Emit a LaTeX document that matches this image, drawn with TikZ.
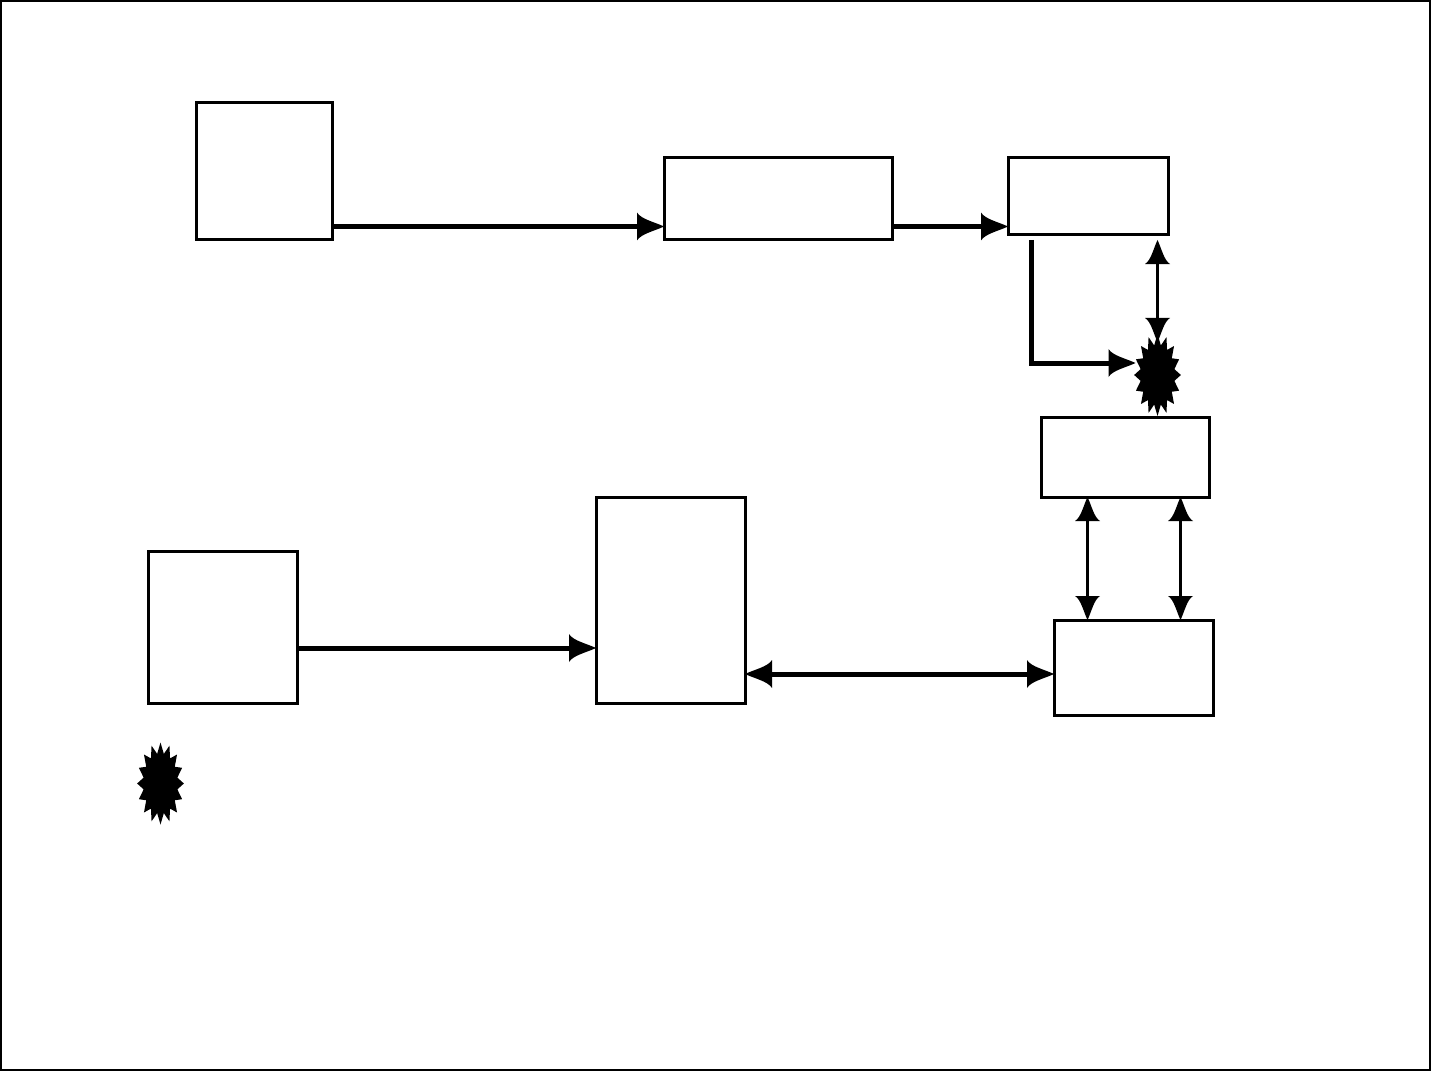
\documentclass[tikz,border=0pt]{standalone}
\usepackage{tikz}
\usetikzlibrary{arrows.meta,shapes.geometric}

\pgfdeclarearrow{
  name=Flare,
  setup code={
    \pgfarrowssettipend{0pt}
    \pgfarrowssetlineend{-.8\pgfarrowlength}
    \pgfarrowssetvisualbackend{-\pgfarrowlength}
    \pgfarrowssetbackend{-\pgfarrowlength}
    \pgfarrowssavethe\pgfarrowlength
    \pgfarrowssavethe\pgfarrowwidth
  },
  drawing code={
    \pgfpathmoveto{\pgfqpoint{0pt}{0pt}}
    \pgfpathcurveto{\pgfqpoint{-.35\pgfarrowlength}{.16\pgfarrowwidth}}{\pgfqpoint{-.85\pgfarrowlength}{.26\pgfarrowwidth}}{\pgfqpoint{-\pgfarrowlength}{.5\pgfarrowwidth}}
    \pgfpathlineto{\pgfqpoint{-\pgfarrowlength}{-.5\pgfarrowwidth}}
    \pgfpathcurveto{\pgfqpoint{-.85\pgfarrowlength}{-.26\pgfarrowwidth}}{\pgfqpoint{-.35\pgfarrowlength}{-.16\pgfarrowwidth}}{\pgfqpoint{0pt}{0pt}}
    \pgfpathclose
    \pgfusepathqfill
  },
  parameters={\the\pgfarrowlength,\the\pgfarrowwidth},
}

\begin{document}
\begin{tikzpicture}[
    x=1pt, y=-1pt,
    box/.style={draw, line width=3pt, inner sep=0pt, outer sep=0pt},
    burst/.style={star, star points=16, star point ratio=1.36, fill=black, draw=none,
        inner sep=0pt, outer sep=0pt, minimum size=82pt, xscale=0.57},
    wide/.style={line width=5pt, -{Flare[length=27pt,width=28pt]}},
    widetwo/.style={line width=5pt, {Flare[length=27pt,width=28pt]}-{Flare[length=27pt,width=28pt]}},
    thin two/.style={line width=3pt, {Flare[length=24pt,width=25pt]}-{Flare[length=24pt,width=25pt]}}
]
\useasboundingbox (0,0) rectangle (1431,1075);
\draw[line width=2pt] (1,1) rectangle (1430,1070);

\node[box, minimum width=136pt, minimum height=137pt] (topleft) at (264,171.5) {};
\node[box, minimum width=228pt, minimum height=82pt] (topmid) at (778,199) {};
\node[box, minimum width=160pt, minimum height=77pt] (topright) at (1088,196.5) {};
\node[box, minimum width=168.5pt, minimum height=80pt] (midright) at (1125.3,457) {};
\node[box, minimum width=159pt, minimum height=95pt] (lowright) at (1133.5,667.5) {};
\node[box, minimum width=149pt, minimum height=206pt] (lowmid) at (670.5,600) {};
\node[box, minimum width=149.5pt, minimum height=152pt] (lowleft) at (222.8,627) {};
\node[burst] (burstright) at (1157.5,375) {};
\node[burst] (burstleft) at (160.5,783.5) {};

\draw[wide] (topleft.east |- 0,226.5) -- (topmid.west |- 0,226.5);
\draw[wide] (topmid.east |- 0,226.5) -- (topright.west |- 0,226.5);
\draw[wide] ([xshift=-57pt,yshift=-5pt]topright.south) |- ([xshift=-22pt,yshift=12pt]burstright.center);
\draw[thin two] (burstright.north |- 0,240) -- ([yshift=-8pt]burstright.north);
\draw[thin two] (midright.south -| 1087.5,0) -- (lowright.north -| 1087.5,0);
\draw[thin two] (midright.south -| 1180.5,0) -- (lowright.north -| 1180.5,0);
\draw[wide] (lowleft.east |- 0,648) -- (lowmid.west |- 0,648);
\draw[widetwo] (lowmid.east |- 0,674) -- (lowright.west |- 0,674);
\end{tikzpicture}
\end{document}
